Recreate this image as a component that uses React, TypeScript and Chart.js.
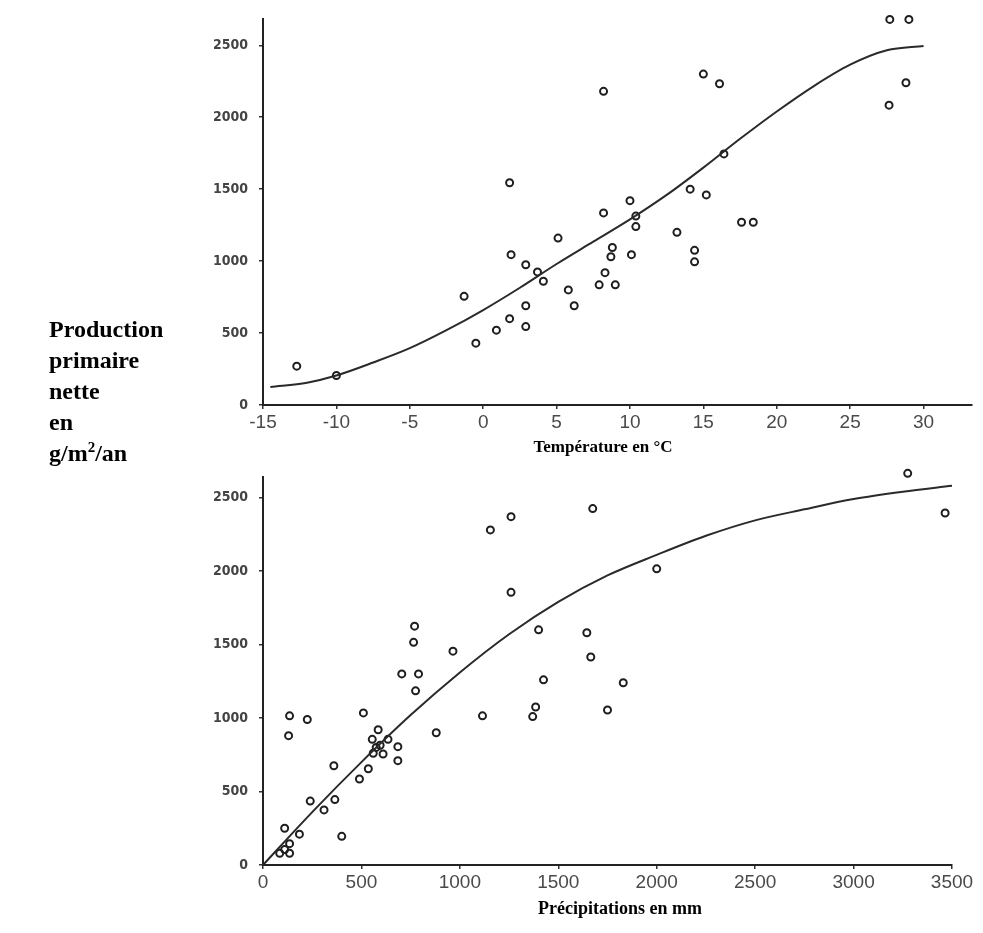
import React, { useEffect, useRef } from "react";
import { Chart, registerables } from "chart.js";

Chart.register(...registerables);

// ---- Top panel: temperature (°C) vs net primary production (g/m²/an)
const tempX = [-12.7, -10.0, -1.3, -0.5, 0.9, 1.8, 1.9, 1.8, 2.9, 2.9, 2.9, 3.7, 4.1, 5.1, 5.8, 6.2, 7.9, 8.3, 9.0, 8.7, 8.8, 8.2, 8.2, 10.0, 10.1, 10.4, 10.4, 13.2, 14.1, 14.4, 14.4, 15.0, 15.2, 16.1, 16.4, 17.6, 18.4, 27.7, 29.0, 28.8, 27.65];
const tempY = [270, 205, 755, 430, 520, 600, 1045, 1545, 975, 690, 545, 925, 860, 1160, 800, 690, 835, 920, 835, 1030, 1095, 1335, 2180, 1420, 1045, 1313, 1240, 1200, 1500, 1075, 995, 2300, 1460, 2233, 1745, 1270, 1270, 2680, 2680, 2240, 2084];
const tempCurveX = [-14.5, -12, -10, -7.5, -5, -2.5, 0, 2.5, 5, 7.5, 10, 12.5, 15, 17.5, 20, 22.5, 25, 27.5, 30];
const tempCurveY = [125, 155, 205, 295, 395, 520, 660, 815, 980, 1135, 1290, 1460, 1650, 1850, 2040, 2215, 2365, 2465, 2495];

// ---- Bottom panel: precipitation (mm) vs net primary production
const precX = [1155, 1260, 1260, 770, 765, 965, 1400, 1675, 2000, 3275, 3465, 1645, 1665, 1830, 1750, 705, 790, 775, 1425, 510, 135, 225, 130, 1115, 1385, 1370, 880, 585, 555, 635, 595, 560, 610, 575, 685, 685, 535, 490, 360, 365, 240, 310, 400, 110, 185, 135, 110, 85, 135];
const precY = [2280, 2370, 1855, 1625, 1515, 1455, 1600, 2425, 2015, 2665, 2395, 1580, 1415, 1240, 1055, 1300, 1300, 1185, 1260, 1035, 1015, 990, 880, 1015, 1075, 1010, 900, 920, 855, 855, 815, 760, 755, 800, 805, 710, 655, 585, 675, 445, 435, 375, 195, 250, 210, 145, 105, 80, 80];
const precCurveX = [0, 250, 500, 750, 1000, 1250, 1500, 1750, 2000, 2250, 2500, 2750, 3000, 3250, 3500];
const precCurveY = [0, 360, 700, 1020, 1310, 1570, 1790, 1970, 2110, 2240, 2345, 2420, 2490, 2540, 2580];

const yTicks = [0, 500, 1000, 1500, 2000, 2500];
const tempTicks = [-15, -10, -5, 0, 5, 10, 15, 20, 25, 30];
const precTicks = [0, 500, 1000, 1500, 2000, 2500, 3000, 3500];

const pts = (xs: number[], ys: number[]) => xs.map((x, i) => ({ x, y: ys[i] }));

type PanelProps = {
  left: number;
  top: number;
  width: number;
  height: number;
  padding: { left: number; top: number; right: number; bottom: number };
  xMin: number;
  xMax: number;
  yMax: number;
  xTicks: number[];
  xs: number[];
  ys: number[];
  cx: number[];
  cy: number[];
};

function Panel(p: PanelProps) {
  const ref = useRef<HTMLCanvasElement | null>(null);
  useEffect(() => {
    if (!ref.current) return;
    const chart = new Chart(ref.current, {
      type: "scatter",
      data: {
        datasets: [
          {
            data: pts(p.cx, p.cy),
            showLine: true,
            pointRadius: 0,
            borderColor: "#2a2a2a",
            borderWidth: 2,
            cubicInterpolationMode: "monotone",
            clip: false,
          } as any,
          {
            data: pts(p.xs, p.ys),
            pointRadius: 3.5,
            pointBorderWidth: 2,
            pointBorderColor: "#1e1e1e",
            pointBackgroundColor: "rgba(255,255,255,0)",
            clip: false,
          } as any,
        ],
      },
      options: {
        responsive: false,
        animation: false,
        layout: { padding: p.padding },
        plugins: { legend: { display: false }, tooltip: { enabled: false } },
        scales: {
          x: {
            type: "linear",
            min: p.xMin,
            max: p.xMax,
            afterFit: (s: any) => {
              s.height = 30;
            },
            afterBuildTicks: (s: any) => {
              s.ticks = p.xTicks.map((v) => ({ value: v }));
            },
            ticks: {
              padding: 2,
              color: "#4a4a4a",
              font: { family: "Liberation Sans, Arial, sans-serif", size: 19 },
              maxRotation: 0,
              autoSkip: false,
              callback: (v: any) => String(v),
            },
            grid: { display: true, drawOnChartArea: false, drawTicks: true, tickLength: 4, color: "#333", lineWidth: 1.5 },
            border: { display: true, color: "#222", width: 2 },
          },
          y: {
            type: "linear",
            min: 0,
            max: p.yMax,
            afterFit: (s: any) => {
              s.width = 113;
            },
            afterBuildTicks: (s: any) => {
              s.ticks = yTicks.map((v) => ({ value: v }));
            },
            ticks: {
              padding: 11,
              color: "#444",
              font: { family: "DejaVu Sans Condensed, DejaVu Sans, sans-serif", size: 14, weight: "bold" },
              autoSkip: false,
              callback: (v: any) => String(v),
            },
            grid: { display: true, drawOnChartArea: false, drawTicks: true, tickLength: 4, color: "#333", lineWidth: 1.5 },
            border: { display: true, color: "#222", width: 2 },
          },
        },
      },
    } as any);
    return () => chart.destroy();
  }, []);
  return (
    <canvas
      ref={ref}
      width={p.width}
      height={p.height}
      style={{ position: "absolute", left: p.left, top: p.top, width: p.width, height: p.height }}
    />
  );
}

const serif = "'Liberation Serif', 'Times New Roman', serif";

export default function App() {
  return (
    <div style={{ position: "absolute", left: 0, top: 0, width: 983, height: 933, background: "#fff", overflow: "hidden" }}>
      <Panel
        left={150}
        top={0}
        width={833}
        height={440}
        padding={{ left: 0, top: 15, right: 11, bottom: 5 }}
        xMin={-15}
        xMax={33.3}
        yMax={2680}
        xTicks={tempTicks}
        xs={tempX}
        ys={tempY}
        cx={tempCurveX}
        cy={tempCurveY}
      />
      <Panel
        left={150}
        top={455}
        width={833}
        height={445}
        padding={{ left: 0, top: 22, right: 31, bottom: 5 }}
        xMin={0}
        xMax={3500}
        yMax={2640}
        xTicks={precTicks}
        xs={precX}
        ys={precY}
        cx={precCurveX}
        cy={precCurveY}
      />
      <div
        style={{
          position: "absolute",
          left: 49,
          top: 314,
          fontFamily: serif,
          fontWeight: "bold",
          fontSize: 24,
          lineHeight: "31px",
          color: "#000",
        }}
      >
        <div>Production</div>
        <div>primaire</div>
        <div>nette</div>
        <div>en</div>
        <div>
          g/m<sup style={{ fontSize: 15, lineHeight: 0, verticalAlign: "9px" }}>2</sup>/an
        </div>
      </div>
      <div
        style={{
          position: "absolute",
          left: 453,
          top: 437,
          width: 300,
          textAlign: "center",
          fontFamily: serif,
          fontWeight: "bold",
          fontSize: 17,
          lineHeight: "20px",
        }}
      >
        Température en °C
      </div>
      <div
        style={{
          position: "absolute",
          left: 470,
          top: 897,
          width: 300,
          textAlign: "center",
          fontFamily: serif,
          fontWeight: "bold",
          fontSize: 18,
          lineHeight: "22px",
        }}
      >
        Précipitations en mm
      </div>
    </div>
  );
}
